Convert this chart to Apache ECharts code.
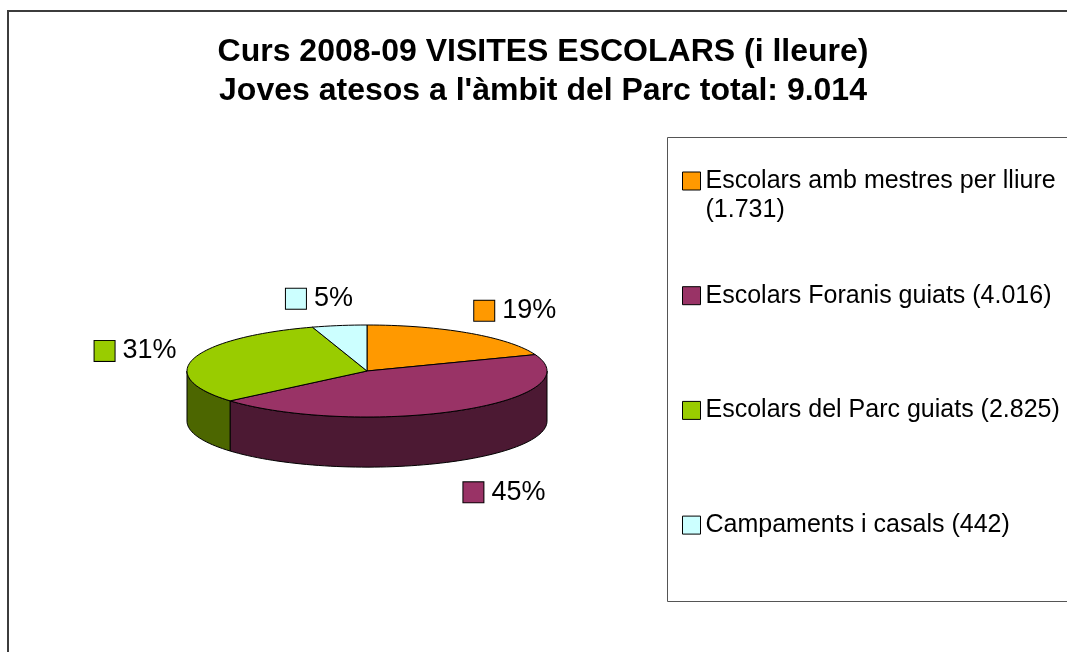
<!DOCTYPE html>
<html>
<head>
<meta charset="utf-8">
<title>Curs 2008-09 visites escolars</title>
<script src="https://cdn.jsdelivr.net/npm/echarts@6/dist/echarts.min.js"></script>
<style>
html,body{margin:0;padding:0;background:#fff;}
#main{width:1067px;height:652px;}
</style>
</head>
<body>
<div id="main"></div>
<script>
var categories = ['Escolars amb mestres per lliure', 'Escolars Foranis guiats', 'Escolars del Parc guiats', 'Campaments i casals'];
var values = [1731, 4016, 2825, 442];
var colors = ['#ff9900', '#993366', '#99cc00', '#ccffff'];
var sideColors = ['#7f4c00', '#4c1933', '#4c6600', '#668080'];

var total = values.reduce(function(a, b){ return a + b; }, 0);

// 1731 -> 1.731
function fmt(n){
    return String(n).replace(/\B(?=(\d{3})+(?!\d))/g, '.');
}

// angles in degrees, clockwise from 12 o'clock
var startAngles = [];
var acc = 0;
values.forEach(function(v){
    startAngles.push(90 - acc / total * 360);
    acc += v;
});

var DEPTH = 1.09; // height of the wall, in y units
var FONT = 'Liberation Sans';

function pt(api, deg, drop){
    var r = deg * Math.PI / 180;
    return api.coord([Math.cos(r), Math.sin(r) - (drop || 0)]);
}
function arc(api, from, to, drop){
    var pts = [];
    var n = Math.max(2, Math.ceil(Math.abs(to - from) / 2));
    for (var k = 0; k <= n; k++) {
        pts.push(pt(api, from + (to - from) * k / n, drop));
    }
    return pts;
}

function makeRender(i){
    return function(params, api){
        var s = startAngles[i];
        var e = s - values[i] / total * 360;
        var children = [];
        // top face
        var top = [api.coord([0, 0])].concat(arc(api, s, e, 0));
        children.push({
            type: 'polygon', z2: 10,
            shape: {points: top},
            style: {fill: colors[i], stroke: '#000', lineWidth: 1}
        });
        // front wall, only the part between -180 and 0
        var hi = Math.min(s, 0), lo = Math.max(e, -180);
        if (hi > lo) {
            var wall = arc(api, lo, hi, 0).concat(arc(api, hi, lo, DEPTH));
            children.push({
                type: 'polygon', z2: 1,
                shape: {points: wall},
                style: {fill: sideColors[i], stroke: '#000', lineWidth: 1}
            });
        }
        // percent label outside the slice
        var mid = (s + e) / 2 * Math.PI / 180;
        var c = Math.cos(mid), sn = Math.sin(mid);
        var align, lx;
        if (c > 0.3) { align = 'left'; lx = 1.05 * c; }
        else if (c < -0.3) { align = 'right'; lx = 1.1 * c; }
        else { align = 'center'; lx = 1.07 * c - 0.1; }
        var ly = sn < 0 ? 1.8 * sn - DEPTH : 1.59 * sn;
        var p = api.coord([lx, ly]);
        children.push({
            type: 'text', z2: 20,
            x: p[0], y: p[1],
            style: {
                text: '{box|}{t|' + Math.round(values[i] / total * 100) + '%}',
                align: align,
                verticalAlign: 'middle',
                rich: {
                    box: {width: 20, height: 20, backgroundColor: colors[i], borderColor: '#000', borderWidth: 1, verticalAlign: 'middle'},
                    t: {fontSize: 27, fontFamily: FONT, fill: '#000', padding: [0, 0, 0, 8], verticalAlign: 'middle'}
                }
            }
        });
        return {type: 'group', children: children};
    };
}

var myChart = echarts.init(document.getElementById('main'));

var option = {
    backgroundColor: '#fff',
    animation: false,
    title: {
        text: 'Curs 2008-09 VISITES ESCOLARS (i lleure)\nJoves atesos a l\'àmbit del Parc total: ' + fmt(total),
        left: 543,
        top: 33,
        textAlign: 'center',
        padding: 0,
        textStyle: {fontSize: 32, fontWeight: 'bold', fontFamily: FONT, color: '#000', lineHeight: 39}
    },
    graphic: [
        {type: 'rect', silent: true, shape: {x: 8, y: 11, width: 1100, height: 700}, style: {fill: 'none', stroke: '#3c3c3c', lineWidth: 2}},
        {type: 'rect', silent: true, shape: {x: 667.5, y: 137.5, width: 450, height: 464}, style: {fill: 'none', stroke: '#555', lineWidth: 1}}
    ],
    legend: categories.map(function(name, i){
        var long = name.length > 28;
        var rowY = 181 + i * 114.7;
        return {
            orient: 'vertical',
            left: 682,
            top: rowY - (long ? 43.5 : 14.5),
            padding: 0,
            icon: 'rect',
            itemWidth: 18,
            itemHeight: 18,
            selectedMode: false,
            itemStyle: {borderColor: '#000', borderWidth: 1},
            textStyle: {fontSize: 25, fontFamily: FONT, color: '#000', lineHeight: 29},
            formatter: function(n){
                // blank first line keeps the marker on the first text line
                return long ? ' \n' + n + '\n(' + fmt(values[i]) + ')' : n + ' (' + fmt(values[i]) + ')';
            },
            data: [name]
        };
    }),
    grid: {left: 187, top: 325, width: 360, height: 92},
    xAxis: {type: 'value', min: -1, max: 1, show: false},
    yAxis: {type: 'value', min: -1, max: 1, show: false},
    series: categories.map(function(name, i){
        return {
            type: 'custom',
            name: name,
            coordinateSystem: 'cartesian2d',
            renderItem: makeRender(i),
            itemStyle: {color: colors[i], borderColor: '#000', borderWidth: 1},
            silent: true,
            data: [[0, 0, values[i]]]
        };
    })
};

myChart.setOption(option);
window.onresize = function(){
    myChart.resize();
};
</script>
</body>
</html>
